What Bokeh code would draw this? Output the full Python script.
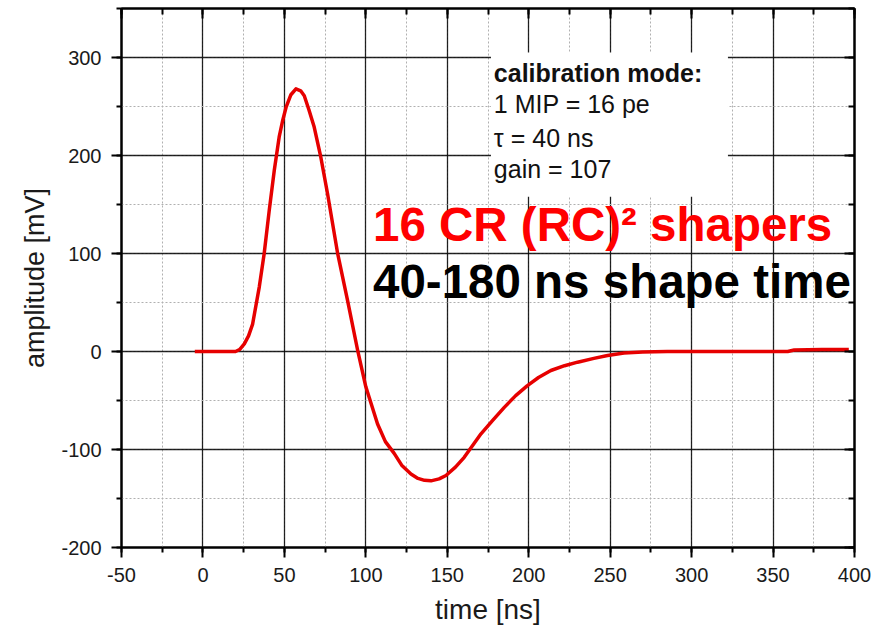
from bokeh.plotting import figure
from bokeh.models import (LinearAxis, SingleIntervalTicker, BoxAnnotation, Label,
                          CustomJSTickFormatter, Range1d)
from bokeh.embed import file_html
from bokeh.resources import INLINE

# ---- data ----
time_ns = [-5, 0, 10, 20, 22.5, 25.4, 28, 30.5, 34.6, 37.6, 40.7, 43.8, 46.8, 49, 51, 54,
           57.1, 60, 62.2, 65, 68.3, 72.4, 76.5, 82.7, 88.8, 95, 100, 107.2, 112, 117.4,
           122, 127.7, 132, 136, 140, 145, 149.2, 155, 160.4, 170.7, 178, 185, 192, 199,
           206, 213.6, 222, 230, 240, 248.4, 258.5, 270, 285, 300, 330, 359, 363, 380, 396.5]
amplitude_mV = [0, 0, 0, 0, 2, 7.8, 16, 28, 66, 100, 144, 185, 219, 236, 249, 262,
                268, 266, 261, 247, 229, 198, 161, 100, 52, 1, -36, -74, -92, -104,
                -116, -125, -129.5, -131.5, -132, -130, -126.5, -118, -108, -84, -70, -57, -45, -35,
                -26.5, -19.4, -14.5, -10.9, -7, -4, -1.5, -0.5, 0, 0, 0, 0, 1.5, 2, 2]

x_label = "time [ns]"
y_label = "amplitude [mV]"
box_title = "calibration mode:"
box_lines = ["1 MIP = 16 pe", "\u03c4 = 40 ns", "gain = 107"]
red_text = "16 CR (RC)\u00b2 shapers"
black_text = "40-180 ns shape time"

FONT = "Liberation Sans"

p = figure(width=882, height=638, output_backend="svg", toolbar_location=None,
           x_range=Range1d(-50, 400), y_range=Range1d(-200, 350),
           x_axis_location=None, y_axis_location=None,
           min_border_left=121, min_border_right=28, min_border_top=8, min_border_bottom=91)
p.background_fill_color = "white"
p.border_fill_color = "white"
p.outline_line_color = "black"
p.outline_line_width = 2

xt = SingleIntervalTicker(interval=50, num_minor_ticks=2)
yt = SingleIntervalTicker(interval=100, num_minor_ticks=2)

plain = CustomJSTickFormatter(code="return String(tick)")

def style(ax, inside=False):
    ax.axis_line_color = "black"
    ax.axis_line_width = 2
    ax.major_tick_line_color = "black"
    ax.minor_tick_line_color = "black"
    ax.major_tick_line_width = 2
    ax.minor_tick_line_width = 2
    if inside:
        ax.major_tick_in = 10
        ax.major_tick_out = 0
        ax.minor_tick_in = 6
        ax.minor_tick_out = 0
        ax.formatter = CustomJSTickFormatter(code="return ''")
        ax.major_label_text_font_size = "0px"
        ax.major_label_standoff = 0
    else:
        ax.formatter = plain
        ax.major_tick_in = 0
        ax.major_tick_out = 10
        ax.minor_tick_in = 0
        ax.minor_tick_out = 5
        ax.major_label_text_font = FONT
        ax.major_label_text_font_size = "20px"
        ax.major_label_text_color = "#1a1a1a"
        ax.axis_label_text_font = FONT
        ax.axis_label_text_font_style = "normal"
        ax.axis_label_text_color = "#1a1a1a"

bottom = LinearAxis(ticker=xt, axis_label=x_label)
style(bottom)
bottom.axis_label_text_font_size = "28px"
bottom.major_label_standoff = 10
bottom.axis_label_standoff = 9
p.add_layout(bottom, "below")

left = LinearAxis(ticker=yt, axis_label=y_label)
style(left)
left.axis_label_text_font_size = "27px"
left.major_label_standoff = 10
left.axis_label_standoff = 8
p.add_layout(left, "left")

top = LinearAxis(ticker=xt)
style(top, inside=True)
p.add_layout(top, "above")

right = LinearAxis(ticker=yt)
style(right, inside=True)
p.add_layout(right, "right")

p.xgrid.ticker = xt
p.ygrid.ticker = yt
for g in (p.xgrid, p.ygrid):
    g.grid_line_color = "black"
    g.grid_line_alpha = 0.85
    g.grid_line_width = 1.3
    g.minor_grid_line_color = "#b0b0b0"
    g.minor_grid_line_dash = "2 2"
    g.minor_grid_line_width = 1

p.line(time_ns, amplitude_mV, line_color="#e60000", line_width=3.5, line_join="round")

p.add_layout(BoxAnnotation(left=176.8, right=322.3, bottom=158, top=305,
                           fill_color="white", fill_alpha=1, line_color=None))

p.add_layout(Label(x=178.6, y=270, text=box_title, text_font=FONT, text_font_size="25px",
                   text_font_style="bold", text_color="#111111"))
for yy, t in zip([238, 204, 172], box_lines):
    p.add_layout(Label(x=178.6, y=yy, text=t, text_font=FONT, text_font_size="25px",
                       text_color="#111111"))

p.add_layout(Label(x=104.4, y=103, text=red_text, text_font=FONT, text_font_size="47.5px",
                   text_font_style="bold", text_color="#ff0000"))
p.add_layout(Label(x=104.4, y=44, text=black_text, text_font=FONT, text_font_size="47.5px",
                   text_font_style="bold", text_color="black"))

open("out.html", "w").write(file_html(p, INLINE))
